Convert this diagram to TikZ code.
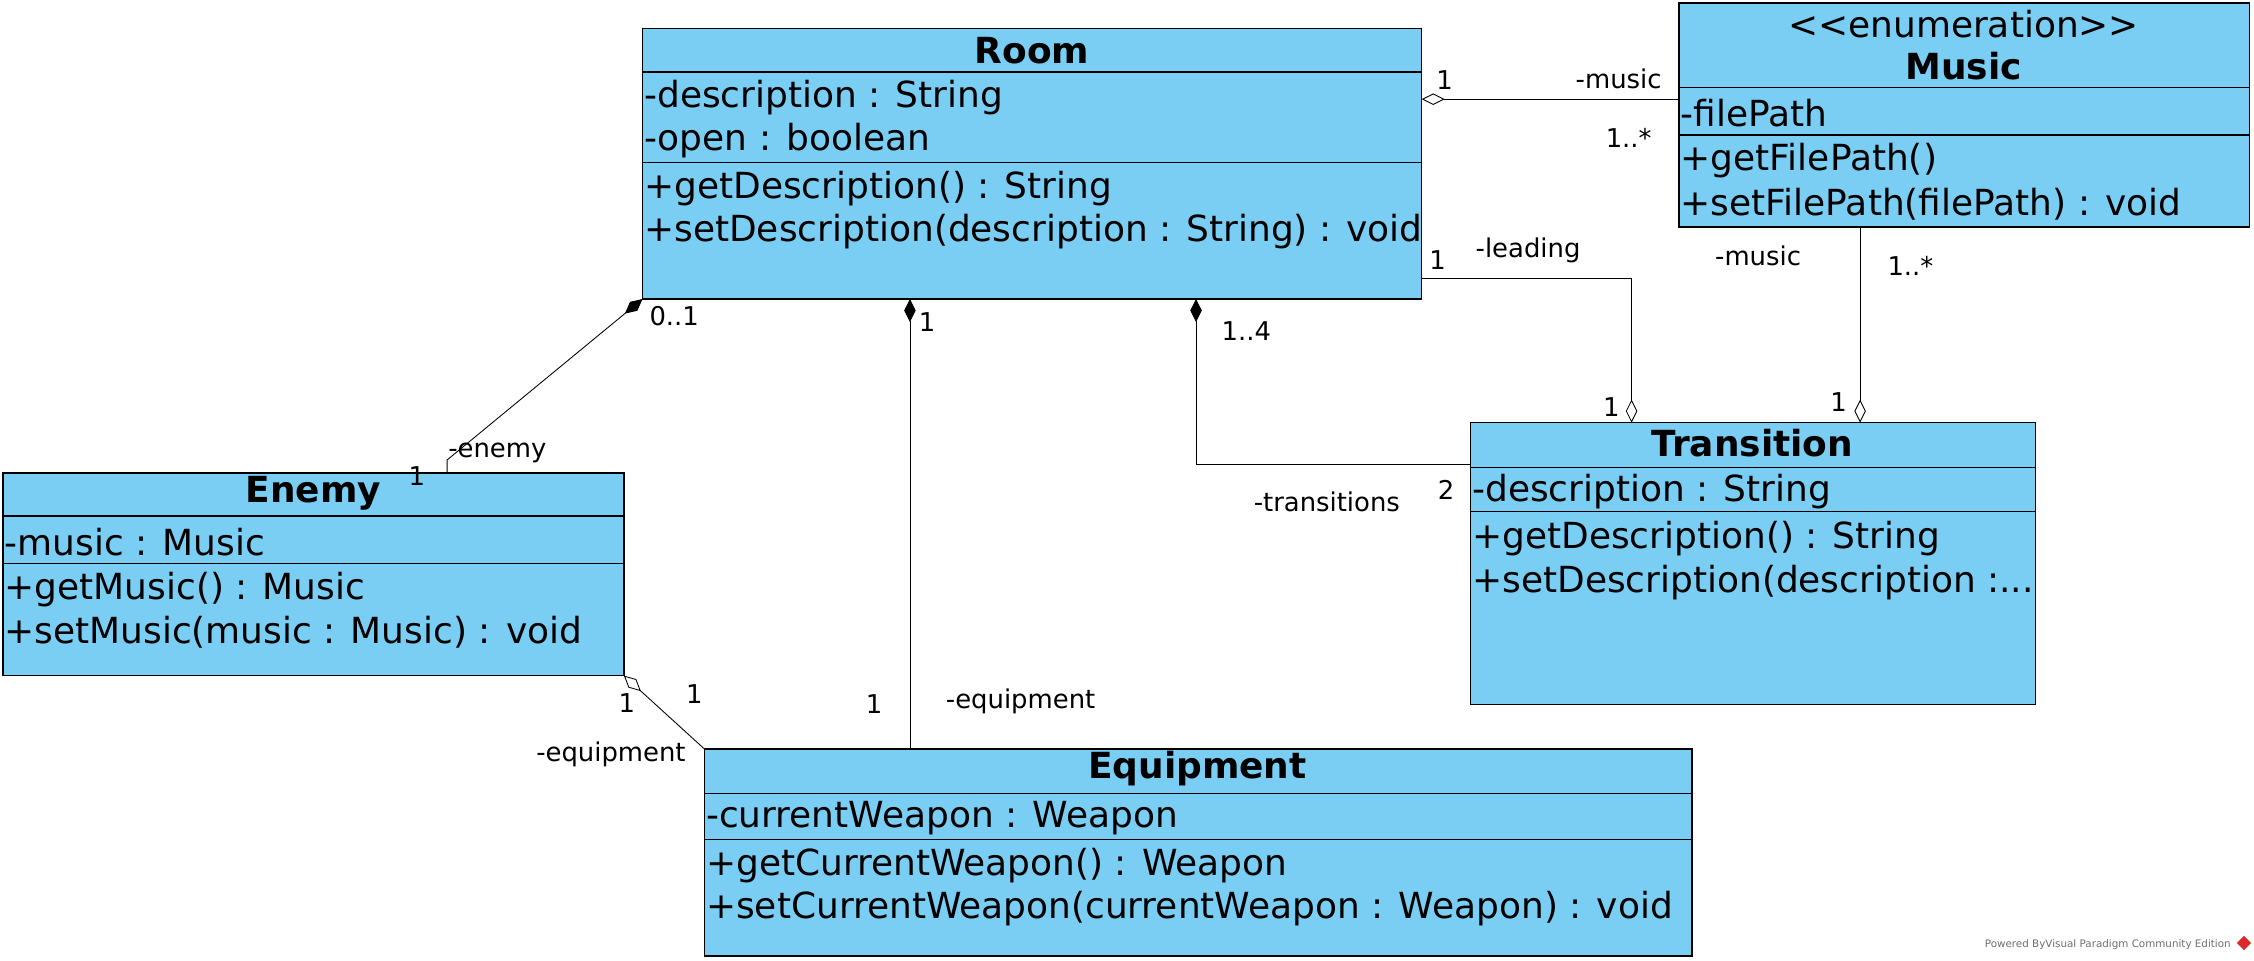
\documentclass[tikz,border=0pt]{standalone}
\usepackage{fontspec}
\setmainfont{DejaVu Sans}
\usetikzlibrary{arrows.meta,calc}
\definecolor{clsblue}{RGB}{122,206,244}
\definecolor{wmgray}{RGB}{110,110,110}
\definecolor{wmred}{RGB}{220,40,40}
\begin{document}
\begin{tikzpicture}[x=1pt,y=-1pt,
  cls/.style={draw=black, fill=clsblue, line width=0.9pt, inner sep=0pt, outer sep=0pt, anchor=north west},
  sep/.style={line width=0.9pt},
  txt/.style={font=\fontsize{25}{29}\selectfont, inner sep=0pt, anchor=west, yshift=-1pt},
  ttl/.style={font=\fontsize{25}{29}\selectfont\bfseries, inner sep=0pt},
  stereo/.style={font=\fontsize{25}{29}\selectfont, inner sep=0pt},
  lbl/.style={font=\fontsize{18}{21}\selectfont, inner sep=0pt},
  assoc/.style={line width=0.6pt},
  comp/.style={assoc, {Diamond[length=16pt,width=8pt]}-},
  agg/.style={assoc, {Diamond[open,fill=white,length=16pt,width=8pt]}-}
]
\useasboundingbox (0,0) rectangle (1568,668);

% ---------- Room ----------
\node[cls, minimum width=542pt, minimum height=188pt] (room) at (447,20) {};
\draw[sep] (447,50) -- (989,50);
\draw[sep] (447,113) -- (989,113);
\node[ttl] (roomT) at (718,35) {Room};
\node[txt] (roomA1) at (448,67) {-description : String};
\node[txt] (roomA2) at (448,97) {-open : boolean};
\node[txt] (roomO1) at (448,130) {+getDescription() : String};
\node[txt] (roomO2) at (448,160) {+setDescription(description : String) : void};

% ---------- Music ----------
\node[cls, minimum width=397pt, minimum height=156pt] (music) at (1168,2) {};
\draw[sep] (1168,61) -- (1565,61);
\draw[sep] (1168,94) -- (1565,94);
\node[stereo] (musicS) at (1366,17) {<\kern0pt<enumeration>\kern0pt>};
\node[ttl] (musicT) at (1366,46) {Music};
\node[txt] (musicA1) at (1169,78) {-filePath};
\node[txt] (musicO1) at (1169,111) {+getFilePath()};
\node[txt] (musicO2) at (1169,141) {+setFilePath(filePath) : void};

% ---------- Transition ----------
\node[cls, minimum width=393pt, minimum height=196pt] (trans) at (1023,294) {};
\draw[sep] (1023,325) -- (1416,325);
\draw[sep] (1023,356) -- (1416,356);
\node[ttl] (transT) at (1219,308) {Transition};
\node[txt] (transA1) at (1024,341) {-description : String};
\node[txt] (transO1) at (1024,374) {+getDescription() : String};
\node[txt] (transO2) at (1024,404) {+setDescription(description :...};

% ---------- Enemy ----------
\node[cls, minimum width=432pt, minimum height=141pt] (enemy) at (2,329) {};
\draw[sep] (2,359) -- (434,359);
\draw[sep] (2,392) -- (434,392);
\node[ttl] (enemyT) at (218,343) {Enemy};
\node[txt] (enemyA1) at (3,376) {-music : Music};
\node[txt] (enemyO1) at (3,409) {+getMusic() : Music};
\node[txt] (enemyO2) at (3,439) {+setMusic(music : Music) : void};

% ---------- Equipment ----------
\node[cls, minimum width=687pt, minimum height=144pt] (equip) at (490,521) {};
\draw[sep] (490,552) -- (1177,552);
\draw[sep] (490,584) -- (1177,584);
\node[ttl] (equipT) at (833,535) {Equipment};
\node[txt] (equipA1) at (491,568) {-currentWeapon : Weapon};
\node[txt] (equipO1) at (491,601) {+getCurrentWeapon() : Weapon};
\node[txt] (equipO2) at (491,631) {+setCurrentWeapon(currentWeapon : Weapon) : void};

% ---------- helper coordinates ----------
\coordinate (yMusic) at (0,69);
\coordinate (yLead) at (0,194);
\coordinate (xLead) at (1135,0);
\coordinate (xMus) at (1294,0);
\coordinate (xTr) at (832,0);
\coordinate (yTr) at (0,323);
\coordinate (xEq) at (633,0);
\coordinate (bendE) at (311,320);
\coordinate (xEn) at (311,0);

% ---------- Connectors ----------
% Room -- Music
\draw[agg] (room.east |- yMusic) -- (music.west |- yMusic);
\node[lbl] (l1a) at (1005,56) {1};
\node[lbl] (l1b) at (1126,55) {-music};
\node[lbl] (l1c) at (1133,96) {1..*};

% Room -- Transition (leading)
\draw[agg] (trans.north -| xLead) -- (xLead |- yLead) -- (room.east |- yLead);
\node[lbl] (l2a) at (1000,181) {1};
\node[lbl] (l2b) at (1063,174) {-leading};
\node[lbl] (l2c) at (1121,283) {1};

% Music -- Transition
\draw[agg] (trans.north -| xMus) -- (music.south -| xMus);
\node[lbl] (l3a) at (1223,178) {-music};
\node[lbl] (l3b) at (1329,185) {1..*};
\node[lbl] (l3c) at (1279,280) {1};

% Room -- Transition (transitions)
\draw[comp] (room.south -| xTr) -- (xTr |- yTr) -- (trans.west |- yTr);
\node[lbl] (l4a) at (867,230) {1..4};
\node[lbl] (l4b) at (923,349) {-transitions};
\node[lbl] (l4c) at (1006,341) {2};

% Room -- Equipment
\draw[comp] (room.south -| xEq) -- (equip.north -| xEq);
\node[lbl] (l5a) at (645,224) {1};
\node[lbl] (l5b) at (608,490) {1};
\node[lbl] (l5c) at (710,488) {-equipment};

% Room -- Enemy
\draw[comp] (room.south west) -- (bendE) -- (enemy.north -| xEn);
\node[lbl] (l6a) at (469,220) {0..1};
\node[lbl] (l6b) at (346,315) {-enemy};
\node[lbl] (l6c) at (290,331) {1};

% Enemy -- Equipment
\draw[agg] (enemy.south east) -- (equip.north west);
\node[lbl] (l7a) at (436,489) {1};
\node[lbl] (l7b) at (483,483) {1};
\node[lbl] (l7c) at (425,525) {-equipment};

% ---------- Watermark ----------
\node[font=\fontsize{7.2}{9}\selectfont, text=wmgray, inner sep=0pt, anchor=east] (wm) at (1552,657) {Powered ByVisual Paradigm Community Edition};
\node[fill=wmred, rotate=45, minimum size=7pt, inner sep=0pt] (wmicon) at (1561,656) {};
\end{tikzpicture}
\end{document}
